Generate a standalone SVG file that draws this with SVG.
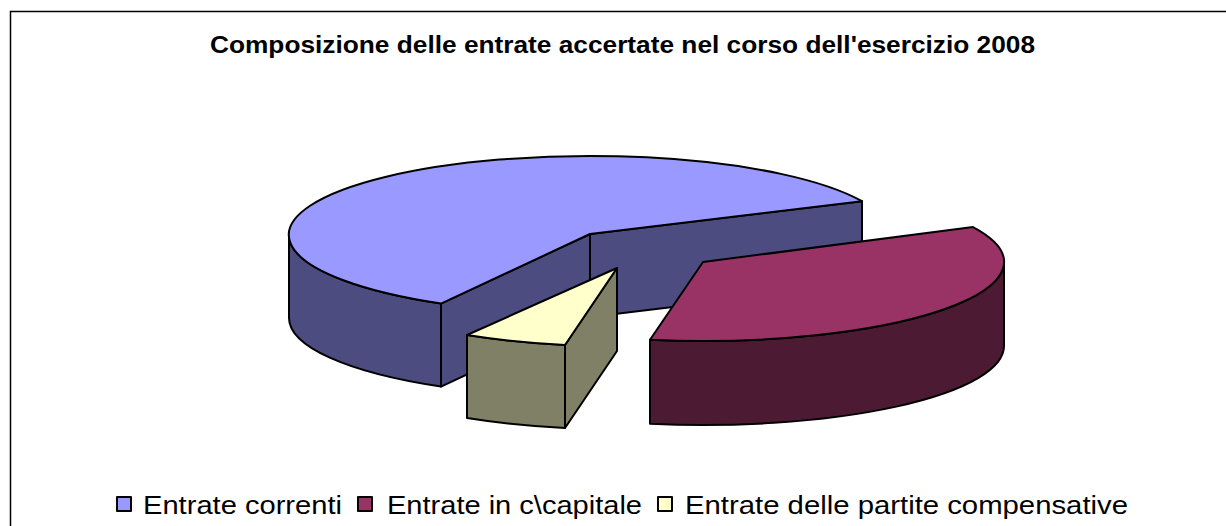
<svg xmlns="http://www.w3.org/2000/svg" width="1226" height="526" viewBox="0 0 1226 526">
<style>
.e{stroke:#000;stroke-width:2;stroke-linejoin:round}
.bt{fill:#9999FF}.bs{fill:#4C4C80}
.rt{fill:#993366}.rs{fill:#4D1A33}
.yt{fill:#FFFFCC}.ys{fill:#808066}
.title{font-family:"Liberation Sans",Arial,sans-serif;font-weight:bold;font-size:23px;fill:#000}
.leg{font-family:"Liberation Sans",Arial,sans-serif;font-size:26px;fill:#000}
</style>
<rect x="0" y="0" width="1226" height="526" fill="#fff"/>
<rect x="10.5" y="11.5" width="1230" height="530" fill="none" stroke="#000" stroke-width="1.5"/>
<text class="title" x="210" y="53" textLength="825" lengthAdjust="spacingAndGlyphs">Composizione delle entrate accertate nel corso dell'esercizio 2008</text>
<g id="slice-entrate-correnti">
<path class="e bs" d="M590,234 L862,201.2 L862,284.2 L590,317 Z"/>
<path class="e bs" d="M441,303.6 L590,234 L590,317 L441,386.6 Z"/>
<path class="e bs" d="M289,235 A301,79 0 0 0 441,303.6 L441,386.6 A301,79 0 0 1 289,318 Z"/>
<path class="e bt" d="M590,234 L862,201.2 A301,79 0 1 0 441,303.6 Z"/>
</g>
<g id="slice-partite-compensative">
<path class="e ys" d="M565,345 L617,268 L617,351 L565,428 Z"/>
<path class="e ys" d="M467,335 A301,79 0 0 0 565,345 L565,428 A301,79 0 0 1 467,418 Z"/>
<path class="e yt" d="M617,268 L467,335 A301,79 0 0 0 565,345 Z"/>
</g>
<g id="slice-entrate-capitale">
<path class="e rs" d="M1004,262 A301,79 0 0 1 650,339.8 L650,423.8 A301,79 0 0 0 1004,346 Z"/>
<path class="e rt" d="M703,262 L973,227.1 A301,79 0 0 1 650,339.8 Z"/>
</g>
<g id="legend">
<g id="legend-correnti">
<rect class="e bt" x="117" y="497" width="14" height="14"/>
<text class="leg" x="143" y="514" textLength="199" lengthAdjust="spacingAndGlyphs">Entrate correnti</text>
</g>
<g id="legend-capitale">
<rect class="e rt" x="358" y="497" width="14" height="14"/>
<text class="leg" x="387" y="514" textLength="255" lengthAdjust="spacingAndGlyphs">Entrate in c\capitale</text>
</g>
<g id="legend-compensative">
<rect class="e yt" x="658" y="497" width="14" height="14"/>
<text class="leg" x="685" y="514" textLength="443" lengthAdjust="spacingAndGlyphs">Entrate delle partite compensative</text>
</g>
</g>
</svg>
